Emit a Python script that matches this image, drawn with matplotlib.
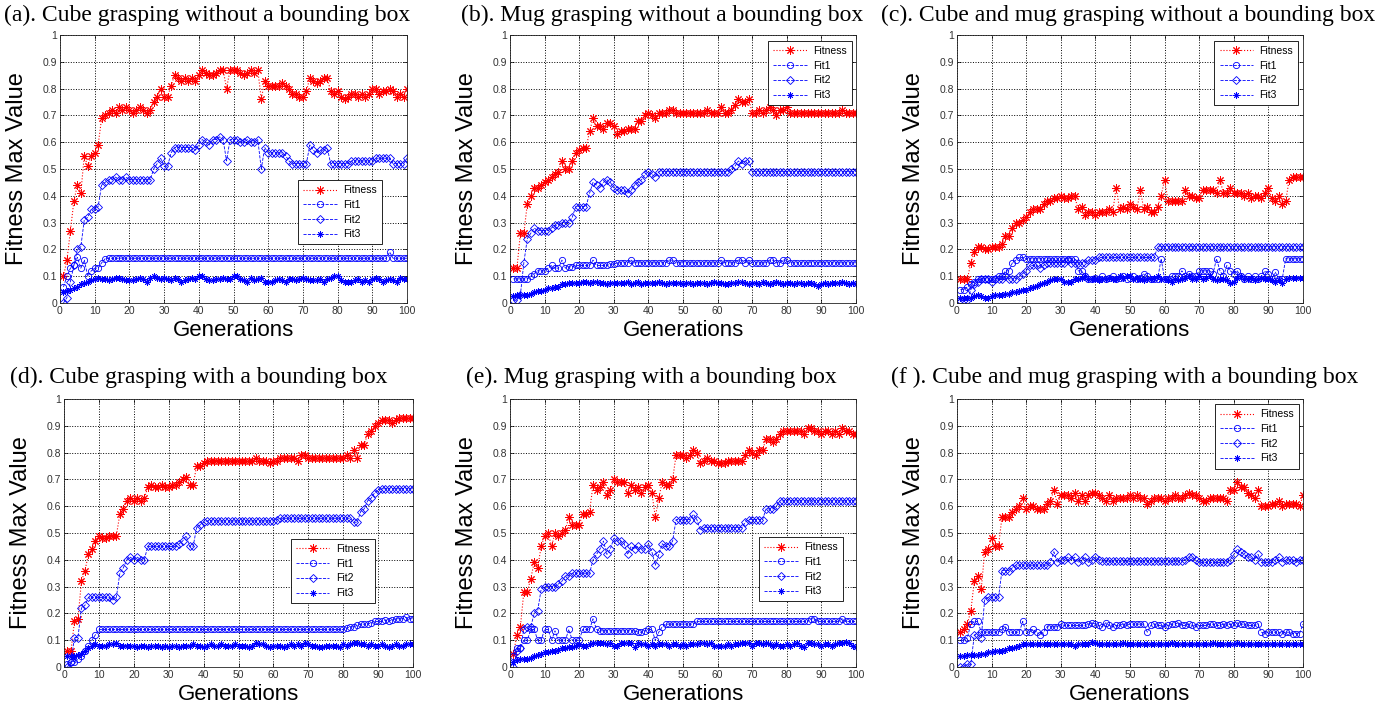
# plot.py
# Six panels of GA fitness curves (Fitness / Fit1 / Fit2 / Fit3 over 100 generations),
# redrawn in the MATLAB look of the original figure.

import numpy as np
import matplotlib
matplotlib.use("Agg")
import matplotlib.pyplot as plt

# ---------------------------------------------------------------------------
# Data (generations 1..100)
# ---------------------------------------------------------------------------

generations = np.arange(1, 101)

# (a) cube, no bounding box
a_fitness = [.10, .16, .27, .38, .44, .41, .55, .51, .55, .56,
             .59, .69, .70, .71, .72, .71, .73, .72, .73, .72,
             .71, .72, .73, .72, .71, .72, .75, .77, .80, .77,
             .77, .81, .85, .84, .83, .84, .83, .84, .83, .85,
             .87, .86, .85, .85, .86, .87, .87, .80, .87, .87,
             .87, .86, .85, .86, .87, .86, .87, .76, .83, .81,
             .81, .81, .81, .82, .81, .80, .78, .78, .77, .77,
             .79, .84, .83, .82, .83, .84, .84, .79, .78, .79,
             .77, .76, .77, .78, .78, .77, .78, .77, .78, .80,
             .80, .78, .79, .79, .80, .79, .77, .78, .77, .80]
a_fit1 = [.06, .10, .13, .14, .17, .13, .16, .10, .12, .13,
          .13, .15, .165, .167, .167, .167, .167, .168, .167, .167,
          .167, .167, .167, .167, .167, .167, .167, .167, .167, .167,
          .167, .167, .167, .167, .167, .167, .167, .167, .167, .167,
          .167, .167, .167, .167, .167, .167, .168, .167, .167, .167,
          .167, .167, .167, .167, .167, .167, .167, .167, .167, .167,
          .167, .167, .167, .167, .167, .167, .167, .167, .167, .167,
          .167, .167, .167, .167, .167, .168, .167, .167, .167, .167,
          .167, .167, .167, .167, .167, .167, .167, .167, .167, .167,
          .167, .167, .167, .167, .19, .167, .167, .167, .167, .167]
a_fit2 = [.00, .02, .08, .14, .20, .21, .31, .32, .35, .35,
          .36, .44, .45, .46, .46, .47, .46, .46, .47, .46,
          .46, .46, .46, .46, .46, .46, .50, .52, .54, .51,
          .51, .56, .58, .58, .58, .58, .58, .58, .57, .59,
          .61, .60, .59, .61, .61, .62, .61, .53, .61, .61,
          .61, .60, .60, .61, .60, .60, .61, .50, .58, .56,
          .56, .56, .56, .56, .55, .53, .52, .52, .52, .52,
          .52, .59, .57, .56, .57, .57, .58, .52, .52, .52,
          .52, .52, .52, .53, .53, .53, .53, .53, .53, .53,
          .54, .54, .54, .54, .54, .52, .52, .52, .52, .54]
a_fit3 = [.04, .045, .05, .055, .06, .07, .075, .08, .085, .09,
          .095, .09, .09, .085, .09, .095, .095, .09, .085, .085,
          .085, .09, .095, .09, .08, .095, .10, .095, .09, .095,
          .09, .085, .095, .09, .08, .085, .09, .095, .09, .10,
          .10, .09, .085, .085, .09, .09, .095, .09, .09, .10,
          .10, .09, .085, .08, .095, .085, .09, .095, .08, .08,
          .08, .085, .09, .085, .08, .09, .09, .085, .09, .095,
          .09, .085, .085, .085, .09, .08, .09, .095, .10, .10,
          .085, .08, .08, .08, .085, .09, .08, .085, .08, .09,
          .095, .09, .08, .085, .09, .085, .08, .095, .09, .09]

# (b) mug, no bounding box
b_fitness = [.13, .13, .26, .26, .37, .40, .43, .43, .44, .45,
             .46, .47, .48, .49, .53, .50, .50, .53, .56, .57,
             .58, .58, .64, .69, .66, .66, .65, .67, .67, .66,
             .63, .64, .64, .65, .65, .65, .68, .68, .70, .71,
             .70, .69, .71, .71, .71, .72, .72, .71, .71, .71,
             .71, .71, .71, .71, .71, .71, .72, .71, .71, .71,
             .73, .71, .71, .72, .74, .76, .75, .75, .76, .71,
             .71, .72, .71, .72, .73, .72, .70, .72, .72, .73,
             .71, .71, .71, .71, .71, .71, .71, .71, .71, .71,
             .71, .71, .71, .71, .71, .72, .71, .71, .71, .71]
b_fit1 = [.09, .09, .09, .09, .09, .10, .11, .12, .12, .12,
          .13, .14, .13, .13, .16, .13, .135, .135, .14, .14,
          .14, .14, .14, .16, .14, .14, .14, .14, .145, .145,
          .15, .15, .15, .15, .16, .15, .15, .15, .15, .15,
          .15, .15, .15, .15, .15, .16, .16, .15, .15, .15,
          .15, .15, .15, .15, .15, .15, .15, .15, .15, .15,
          .16, .15, .15, .15, .15, .16, .16, .15, .16, .15,
          .15, .15, .15, .15, .16, .16, .15, .15, .16, .16,
          .15, .15, .15, .15, .15, .15, .15, .15, .15, .15,
          .15, .15, .15, .15, .15, .15, .15, .15, .15, .15]
b_fit2 = [.01, .01, .03, .15, .24, .26, .28, .27, .27, .27,
          .27, .28, .29, .29, .30, .30, .30, .32, .36, .36,
          .36, .36, .41, .45, .44, .43, .45, .46, .45, .43,
          .42, .42, .42, .41, .42, .44, .45, .46, .48, .49,
          .48, .47, .49, .49, .49, .49, .49, .49, .49, .49,
          .49, .49, .49, .49, .49, .49, .49, .49, .49, .49,
          .49, .49, .49, .50, .51, .53, .52, .53, .53, .49,
          .49, .49, .49, .49, .49, .49, .49, .49, .49, .49,
          .49, .49, .49, .49, .49, .49, .49, .49, .49, .49,
          .49, .49, .49, .49, .49, .49, .49, .49, .49, .49]
b_fit3 = [.025, .03, .03, .03, .03, .035, .04, .045, .045, .05,
          .055, .055, .06, .06, .07, .07, .075, .075, .075, .075,
          .08, .08, .075, .08, .08, .075, .075, .07, .075, .075,
          .075, .075, .075, .08, .07, .075, .08, .07, .075, .075,
          .075, .075, .08, .075, .07, .075, .075, .075, .075, .07,
          .075, .075, .07, .075, .075, .075, .07, .075, .08, .075,
          .075, .07, .07, .075, .075, .08, .08, .075, .07, .075,
          .075, .07, .08, .075, .07, .075, .08, .075, .07, .075,
          .075, .07, .075, .075, .07, .075, .075, .07, .065, .07,
          .075, .07, .075, .075, .075, .08, .075, .07, .075, .07]

# (c) cube and mug, no bounding box
c_fitness = [.09, .09, .09, .15, .19, .21, .21, .20, .20, .21,
             .21, .21, .22, .25, .25, .28, .30, .30, .31, .32,
             .34, .35, .35, .35, .37, .38, .38, .39, .39, .40,
             .39, .39, .40, .40, .35, .36, .33, .34, .34, .33,
             .34, .34, .34, .35, .34, .43, .35, .36, .35, .37,
             .36, .35, .42, .35, .36, .34, .34, .36, .40, .46,
             .38, .38, .38, .38, .38, .42, .40, .40, .39, .39,
             .42, .42, .42, .42, .41, .46, .41, .41, .43, .41,
             .41, .41, .40, .41, .39, .40, .40, .39, .41, .43,
             .39, .38, .40, .37, .38, .46, .47, .47, .47, .47]
c_fit1 = [.05, .05, .06, .07, .08, .09, .09, .09, .09, .09,
          .09, .10, .10, .12, .12, .15, .16, .17, .17, .165,
          .165, .165, .165, .165, .165, .165, .165, .165, .165, .165,
          .165, .165, .165, .165, .12, .12, .10, .09, .09, .095,
          .09, .10, .09, .095, .10, .09, .095, .10, .09, .095,
          .10, .09, .095, .11, .10, .09, .09, .09, .165, .09,
          .09, .10, .10, .10, .12, .10, .11, .10, .10, .12,
          .12, .12, .12, .11, .165, .12, .10, .14, .12, .11,
          .12, .10, .09, .10, .09, .10, .09, .10, .12, .11,
          .09, .115, .09, .09, .165, .165, .165, .165, .165, .165]
c_fit2 = [.01, .01, .01, .05, .07, .08, .09, .09, .09, .08,
          .09, .09, .09, .10, .09, .09, .09, .10, .11, .12,
          .14, .14, .14, .13, .14, .15, .15, .15, .15, .15,
          .15, .16, .15, .15, .15, .15, .15, .16, .16, .16,
          .17, .17, .17, .17, .17, .17, .17, .17, .17, .17,
          .17, .17, .17, .17, .17, .17, .17, .21, .21, .21,
          .21, .21, .21, .21, .21, .21, .21, .21, .21, .21,
          .21, .21, .21, .21, .21, .21, .21, .21, .21, .21,
          .21, .21, .21, .21, .21, .21, .21, .21, .21, .21,
          .21, .21, .21, .21, .21, .21, .21, .21, .21, .21]
c_fit3 = [.02, .02, .02, .02, .025, .03, .025, .02, .02, .025,
          .03, .03, .03, .035, .035, .04, .04, .045, .05, .05,
          .055, .06, .065, .07, .075, .08, .085, .09, .09, .09,
          .08, .08, .08, .09, .09, .095, .10, .09, .09, .09,
          .085, .09, .09, .095, .09, .09, .10, .095, .10, .10,
          .09, .095, .09, .085, .09, .09, .095, .10, .09, .09,
          .085, .08, .09, .085, .09, .095, .10, .09, .09, .10,
          .09, .095, .10, .09, .085, .09, .09, .085, .075, .08,
          .095, .10, .09, .09, .095, .085, .09, .095, .09, .09,
          .085, .08, .085, .075, .09, .095, .095, .095, .095, .095]

# (d) cube, with bounding box
d_fitness = [.06, .06, .17, .18, .32, .36, .42, .44, .47, .49,
             .48, .48, .49, .49, .49, .57, .59, .62, .63, .62,
             .63, .62, .63, .67, .68, .67, .67, .68, .67, .67,
             .68, .68, .69, .70, .71, .68, .68, .75, .75, .76,
             .77, .77, .77, .77, .77, .77, .77, .77, .77, .77,
             .77, .77, .77, .77, .78, .77, .77, .77, .76, .77,
             .77, .78, .78, .78, .78, .78, .77, .79, .79, .78,
             .78, .78, .78, .78, .78, .78, .78, .78, .78, .78,
             .79, .78, .81, .78, .83, .83, .87, .88, .90, .91,
             .92, .92, .92, .91, .92, .93, .93, .93, .93, .93]
d_fit1 = [.01, .02, .02, .03, .04, .06, .08, .10, .12, .14,
          .14, .14, .14, .14, .14, .14, .14, .14, .14, .14,
          .14, .14, .14, .14, .14, .14, .14, .14, .14, .14,
          .14, .14, .14, .14, .14, .14, .14, .14, .14, .14,
          .14, .14, .14, .14, .14, .14, .14, .14, .14, .14,
          .14, .14, .14, .14, .14, .14, .14, .14, .14, .14,
          .14, .14, .14, .14, .14, .14, .14, .14, .14, .14,
          .14, .14, .14, .14, .14, .14, .14, .14, .14, .14,
          .145, .15, .15, .155, .16, .16, .16, .165, .17, .17,
          .17, .175, .17, .175, .18, .18, .18, .185, .18, .18]
d_fit2 = [.00, .02, .11, .11, .22, .23, .26, .26, .26, .26,
          .26, .26, .26, .25, .26, .35, .37, .40, .41, .40,
          .41, .40, .40, .45, .45, .45, .45, .45, .45, .45,
          .45, .45, .46, .47, .49, .45, .45, .52, .53, .54,
          .545, .545, .545, .545, .545, .545, .545, .545, .545, .545,
          .545, .545, .545, .545, .545, .545, .545, .545, .545, .545,
          .55, .555, .555, .555, .555, .555, .555, .555, .555, .555,
          .555, .555, .555, .555, .555, .555, .555, .555, .555, .555,
          .555, .555, .54, .54, .58, .59, .62, .63, .65, .66,
          .665, .665, .665, .665, .665, .665, .665, .665, .665, .665]
d_fit3 = [.04, .04, .04, .045, .05, .06, .07, .08, .085, .08,
          .08, .08, .085, .085, .09, .08, .08, .08, .08, .08,
          .075, .08, .08, .075, .08, .08, .08, .075, .08, .075,
          .08, .08, .075, .08, .08, .08, .085, .08, .08, .075,
          .08, .085, .08, .08, .085, .08, .08, .08, .085, .08,
          .08, .08, .075, .08, .09, .085, .085, .08, .075, .08,
          .08, .08, .075, .08, .085, .08, .085, .08, .09, .085,
          .08, .08, .075, .075, .08, .08, .08, .08, .075, .085,
          .08, .085, .09, .09, .085, .085, .08, .085, .08, .08,
          .085, .08, .075, .08, .085, .08, .08, .085, .085, .085]

# (e) mug, with bounding box
e_fitness = [.05, .12, .15, .28, .28, .33, .39, .37, .45, .49,
             .50, .45, .50, .49, .50, .51, .56, .53, .53, .53,
             .57, .57, .58, .68, .66, .67, .69, .64, .66, .70,
             .69, .69, .69, .65, .68, .66, .67, .65, .67, .68,
             .65, .56, .63, .69, .68, .68, .70, .79, .79, .79,
             .78, .79, .81, .80, .76, .77, .78, .77, .77, .76,
             .76, .76, .77, .77, .77, .77, .77, .79, .81, .80,
             .79, .81, .81, .85, .85, .84, .85, .87, .88, .88,
             .88, .88, .88, .88, .87, .89, .89, .88, .88, .87,
             .88, .88, .87, .88, .87, .89, .88, .88, .87, .87]
e_fit1 = [.04, .07, .07, .10, .10, .14, .14, .10, .10, .14,
          .14, .10, .135, .10, .10, .10, .14, .10, .10, .10,
          .14, .14, .14, .18, .14, .135, .135, .135, .135, .135,
          .135, .135, .135, .135, .135, .135, .13, .13, .135, .14,
          .14, .10, .13, .15, .16, .16, .16, .16, .16, .16,
          .16, .16, .16, .17, .17, .17, .17, .17, .17, .17,
          .17, .17, .17, .17, .17, .17, .17, .17, .17, .17,
          .17, .17, .17, .17, .17, .17, .17, .17, .17, .17,
          .17, .17, .17, .17, .17, .17, .18, .18, .17, .17,
          .17, .17, .17, .17, .17, .18, .17, .17, .17, .17]
e_fit2 = [.00, .06, .07, .14, .15, .15, .20, .21, .29, .30,
          .30, .30, .30, .31, .32, .34, .34, .35, .35, .35,
          .35, .35, .35, .40, .42, .44, .47, .42, .44, .48,
          .47, .47, .46, .42, .45, .44, .45, .44, .44, .46,
          .43, .38, .42, .46, .45, .45, .47, .55, .55, .55,
          .55, .55, .57, .55, .51, .52, .52, .52, .52, .52,
          .52, .52, .52, .52, .52, .52, .52, .54, .55, .55,
          .55, .55, .55, .59, .59, .59, .60, .62, .62, .62,
          .62, .62, .62, .62, .62, .62, .62, .62, .62, .62,
          .62, .62, .62, .62, .62, .62, .62, .62, .62, .62]
e_fit3 = [.02, .025, .03, .03, .03, .035, .04, .045, .05, .055,
          .055, .06, .06, .065, .07, .07, .075, .075, .08, .085,
          .08, .08, .085, .09, .09, .09, .09, .085, .09, .08,
          .08, .09, .09, .09, .09, .075, .09, .085, .085, .08,
          .085, .08, .085, .085, .085, .08, .085, .085, .08, .085,
          .08, .085, .085, .085, .09, .09, .085, .09, .08, .08,
          .08, .08, .085, .08, .085, .085, .09, .09, .09, .08,
          .09, .09, .085, .09, .085, .08, .085, .08, .08, .085,
          .08, .085, .09, .08, .075, .09, .09, .085, .085, .08,
          .085, .085, .08, .085, .09, .09, .095, .09, .08, .075]

# (f) cube and mug, with bounding box
f_fitness = [.13, .14, .16, .21, .32, .34, .29, .43, .44, .48,
             .45, .45, .56, .56, .56, .58, .59, .60, .63, .59,
             .60, .60, .59, .59, .59, .61, .62, .66, .61, .64,
             .64, .64, .63, .65, .62, .64, .62, .64, .65, .65,
             .64, .63, .62, .64, .62, .63, .63, .63, .63, .64,
             .63, .64, .63, .63, .61, .62, .63, .63, .63, .62,
             .63, .63, .64, .63, .63, .64, .65, .64, .64, .63,
             .62, .62, .63, .63, .63, .63, .63, .62, .66, .66,
             .69, .67, .67, .65, .64, .63, .66, .60, .60, .60,
             .61, .61, .62, .60, .61, .61, .61, .61, .60, .64]
f_fit1 = [.10, .10, .11, .16, .17, .17, .13, .13, .13, .13,
          .13, .13, .14, .15, .13, .13, .13, .13, .17, .13,
          .13, .14, .13, .12, .13, .15, .15, .15, .15, .16,
          .155, .155, .155, .155, .155, .155, .155, .16, .165, .16,
          .155, .15, .165, .155, .15, .155, .155, .16, .155, .16,
          .16, .16, .16, .16, .13, .155, .16, .155, .155, .15,
          .155, .16, .16, .165, .155, .155, .16, .155, .15, .155,
          .155, .155, .16, .16, .155, .155, .16, .155, .16, .155,
          .165, .16, .16, .155, .155, .155, .16, .13, .125, .13,
          .13, .13, .13, .125, .13, .13, .125, .125, .125, .16]
f_fit2 = [.00, .00, .01, .01, .12, .12, .11, .25, .26, .26,
          .26, .26, .36, .36, .36, .37, .38, .38, .38, .38,
          .38, .38, .38, .38, .38, .38, .39, .43, .39, .40,
          .40, .41, .40, .41, .39, .40, .41, .39, .40, .41,
          .40, .395, .395, .395, .395, .395, .395, .395, .395, .395,
          .395, .395, .395, .395, .395, .395, .395, .395, .395, .395,
          .395, .395, .395, .395, .395, .40, .41, .41, .40, .39,
          .39, .39, .39, .39, .39, .39, .39, .39, .40, .42,
          .44, .43, .42, .41, .41, .40, .42, .39, .39, .39,
          .39, .40, .41, .39, .40, .40, .40, .39, .40, .40]
f_fit3 = [.04, .04, .045, .045, .045, .045, .05, .05, .055, .055,
          .06, .06, .06, .065, .07, .07, .075, .08, .085, .085,
          .085, .085, .085, .085, .085, .085, .085, .085, .085, .085,
          .085, .085, .085, .08, .085, .085, .085, .085, .095, .09,
          .085, .085, .085, .085, .085, .085, .085, .09, .085, .085,
          .085, .085, .085, .085, .085, .085, .085, .085, .085, .085,
          .085, .09, .085, .085, .085, .085, .085, .085, .085, .085,
          .085, .085, .085, .09, .085, .085, .085, .085, .085, .085,
          .09, .085, .085, .085, .085, .085, .085, .085, .085, .085,
          .085, .085, .085, .085, .085, .085, .085, .085, .085, .085]

panel_titles = [
    "(a). Cube grasping without a bounding box",
    "(b). Mug grasping without a bounding box",
    "(c). Cube and mug grasping without a bounding box",
    "(d). Cube grasping with a bounding box",
    "(e). Mug grasping with a bounding box",
    "(f ). Cube and mug grasping with a bounding box",
]
series_labels = ["Fitness", "Fit1", "Fit2", "Fit3"]
y_ticks = [0, 0.1, 0.2, 0.3, 0.4, 0.5, 0.6, 0.7, 0.8, 0.9, 1]
y_tick_labels = ["0", "0.1", "0.2", "0.3", "0.4", "0.5", "0.6", "0.7", "0.8", "0.9", "1"]
x_ticks = [0, 10, 20, 30, 40, 50, 60, 70, 80, 90, 100]

panels = [
    (a_fitness, a_fit1, a_fit2, a_fit3),
    (b_fitness, b_fit1, b_fit2, b_fit3),
    (c_fitness, c_fit1, c_fit2, c_fit3),
    (d_fitness, d_fit1, d_fit2, d_fit3),
    (e_fitness, e_fit1, e_fit2, e_fit3),
    (f_fitness, f_fit1, f_fit2, f_fit3),
]

# ---------------------------------------------------------------------------
# Layout (pixel-matched to the 1396x711 original)
# ---------------------------------------------------------------------------

W, H = 1396, 711
# axes boxes in pixels: left, top, right, bottom
axes_px = [
    (60, 35, 407, 303), (510, 35, 856, 303), (957, 35, 1303, 303),
    (64, 399, 413, 667), (510, 399, 856, 667), (957, 399, 1303, 667),
]
# title anchor (left x, centre y) in pixels
title_px = [(4, 15), (461, 15), (881, 15), (10, 377), (466, 377), (891, 377)]
# legend anchor in axes fraction + loc
legend_pos = [
    ("upper left", (0.686, 0.459)),
    ("upper right", (0.988, 0.978)),
    ("upper right", (0.986, 0.978)),
    ("upper left", (0.650, 0.478)),
    ("upper left", (0.720, 0.485)),
    ("upper right", (0.988, 0.981)),
]

ASTERISK = (8, 2, 0)   # MATLAB-style '*'
SANS = "Liberation Sans"
SERIF = "Liberation Serif"

fig = plt.figure(figsize=(W / 100, H / 100), dpi=100)

for i, (fitness, fit1, fit2, fit3) in enumerate(panels):
    l, t, r, b = axes_px[i]
    ax = fig.add_axes([l / W, 1 - b / H, (r - l) / W, (b - t) / H])

    ax.plot(generations, fitness, ls=":", color="red", lw=0.8,
            marker=ASTERISK, ms=6, mew=0.7, label=series_labels[0])
    ax.plot(generations, fit1, ls="--", color="blue", lw=0.6,
            marker="o", ms=4.5, mfc="none", mew=0.6, label=series_labels[1])
    ax.plot(generations, fit2, ls="--", color="blue", lw=0.6,
            marker="D", ms=3.8, mfc="none", mew=0.6, label=series_labels[2])
    ax.plot(generations, fit3, ls="--", color="blue", lw=0.6,
            marker=ASTERISK, ms=4.5, mew=0.6, label=series_labels[3])

    ax.set_xlim(0, 100)
    ax.set_ylim(0, 1)
    ax.set_xticks(x_ticks)
    ax.set_yticks(y_ticks)
    ax.set_yticklabels(y_tick_labels)
    ax.grid(True, ls=":", color="black", lw=0.7)
    ax.tick_params(direction="in", length=3, width=0.5, top=True, right=True,
                   labelsize=7.5, labelcolor="#333333", pad=2)
    for lab in ax.get_xticklabels() + ax.get_yticklabels():
        lab.set_family(SANS)
    for sp in ax.spines.values():
        sp.set_linewidth(0.6)
        sp.set_color("#222222")

    ax.set_xlabel("Generations", fontsize=16, family=SANS)
    ax.xaxis.set_label_coords(0.5, -0.065)
    ax.set_ylabel("Fitness Max Value", fontsize=17, family=SANS)
    ax.yaxis.set_label_coords(-0.093, 0.5)

    loc, anchor = legend_pos[i]
    leg = ax.legend(loc=loc, bbox_to_anchor=anchor, borderaxespad=0,
                    fancybox=False, framealpha=1, edgecolor="black",
                    prop={"family": SANS, "size": 7.5}, handlelength=3.2,
                    labelspacing=0.45, borderpad=0.5, handletextpad=0.6)
    leg.get_frame().set_linewidth(0.6)

    tx, ty = title_px[i]
    fig.text(tx / W, 1 - ty / H, panel_titles[i], family=SERIF, fontsize=17,
             ha="left", va="center")

fig.savefig("out.png", dpi=100)
